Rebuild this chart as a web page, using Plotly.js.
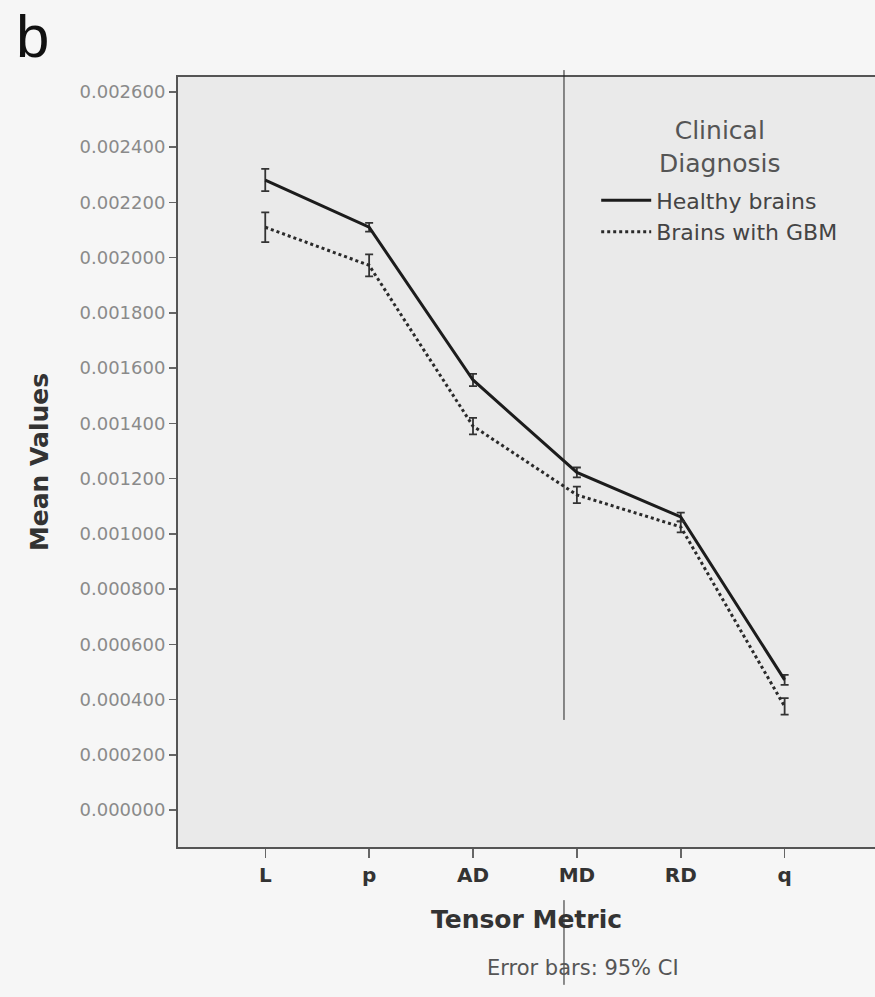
<!DOCTYPE html>
<html>
<head>
<meta charset="utf-8">
<script src="https://cdn.plot.ly/plotly-3.0.1.min.js"></script>
<style>html,body{margin:0;padding:0;background:#f6f6f6;}#chart{width:875px;height:997px;}</style>
</head>
<body>
<div id="chart"></div>
<script>
const categories = ["L", "p", "AD", "MD", "RD", "q"];
const healthyMeans = [0.002281, 0.002110, 0.001557, 0.001222, 0.001061, 0.000471];
const healthyCI = [0.000040, 0.000016, 0.000022, 0.000018, 0.000016, 0.000018];
const gbmMeans = [0.002110, 0.001972, 0.001390, 0.001141, 0.001025, 0.000375];
const gbmCI = [0.000054, 0.000040, 0.000030, 0.000030, 0.000020, 0.000030];
const yTicks = [0, 0.0002, 0.0004, 0.0006, 0.0008, 0.001, 0.0012, 0.0014, 0.0016, 0.0018, 0.002, 0.0022, 0.0024, 0.0026];

const FONT = "DejaVu Sans, Verdana, sans-serif";

const traces = [
  {
    x: categories, y: healthyMeans, name: "Healthy brains", type: "scatter", mode: "lines",
    line: {color: "#1c1c1c", width: 3, dash: "solid"},
    error_y: {type: "data", array: healthyCI, visible: true, color: "#333", thickness: 1.8, width: 4}
  },
  {
    x: categories, y: gbmMeans, name: "Brains with GBM", type: "scatter", mode: "lines",
    line: {color: "#2a2a2a", width: 3, dash: "dot"},
    error_y: {type: "data", array: gbmCI, visible: true, color: "#333", thickness: 1.8, width: 4}
  }
];

const layout = {
  width: 875, height: 997,
  paper_bgcolor: "#f6f6f6",
  plot_bgcolor: "#eaeaea",
  margin: {l: 178, r: 0, t: 77, b: 150},
  font: {family: FONT, color: "#333"},
  showlegend: true,
  legend: {
    x: 0.6, y: 0.867, xanchor: "left", yanchor: "top",
    bgcolor: "rgba(0,0,0,0)",
    font: {size: 22, color: "#444", family: FONT},
    itemwidth: 50
  },
  xaxis: {
    type: "category",
    range: [-0.84, 5.87],
    showgrid: false, zeroline: false,
    showline: true, linecolor: "#555", linewidth: 2, mirror: true,
    ticks: "outside", ticklen: 9, tickcolor: "#666", tickwidth: 1.5,
    tickfont: {size: 20, color: "#333", family: FONT, weight: "bold"},
    title: {text: "<b>Tensor Metric</b>", font: {size: 25, color: "#333", family: FONT}, standoff: 24}
  },
  yaxis: {
    range: [-0.000134, 0.002654],
    tickvals: yTicks,
    tickformat: ".6f",
    showgrid: false, zeroline: false,
    showline: true, linecolor: "#555", linewidth: 2,
    ticks: "outside", ticklen: 7, tickcolor: "#666", tickwidth: 1.5,
    tickfont: {size: 18, color: "#8a8a8a", family: FONT},
    title: {text: "<b>Mean Values</b>", font: {size: 25, color: "#333", family: FONT}, standoff: 24}
  },
  annotations: [
    {text: "b", xref: "paper", yref: "paper", x: -0.235, y: 1.099, xanchor: "left", yanchor: "top",
     showarrow: false, font: {size: 60, color: "#111", family: "Liberation Sans, Arial, sans-serif"}},
    {text: "Clinical<br>Diagnosis", xref: "paper", yref: "paper", x: 0.778, y: 0.909, xanchor: "center", yanchor: "middle",
     align: "center", showarrow: false, font: {size: 25, color: "#555", family: FONT}},
    {text: "Error bars: 95% CI", xref: "paper", yref: "paper", x: 0.581, y: -0.157, xanchor: "center", yanchor: "middle",
     showarrow: false, font: {size: 21, color: "#555", family: FONT}}
  ],
  shapes: [
    {type: "line", xref: "paper", yref: "paper", x0: 0.5538, x1: 0.5538, y0: 0.165, y1: 1.009, line: {color: "#222", width: 1}},
    {type: "line", xref: "paper", yref: "paper", x0: 0.5538, x1: 0.5538, y0: -0.179, y1: -0.069, line: {color: "#222", width: 1}}
  ]
};

Plotly.newPlot("chart", traces, layout, {displayModeBar: false, staticPlot: true});
</script>
</body>
</html>
